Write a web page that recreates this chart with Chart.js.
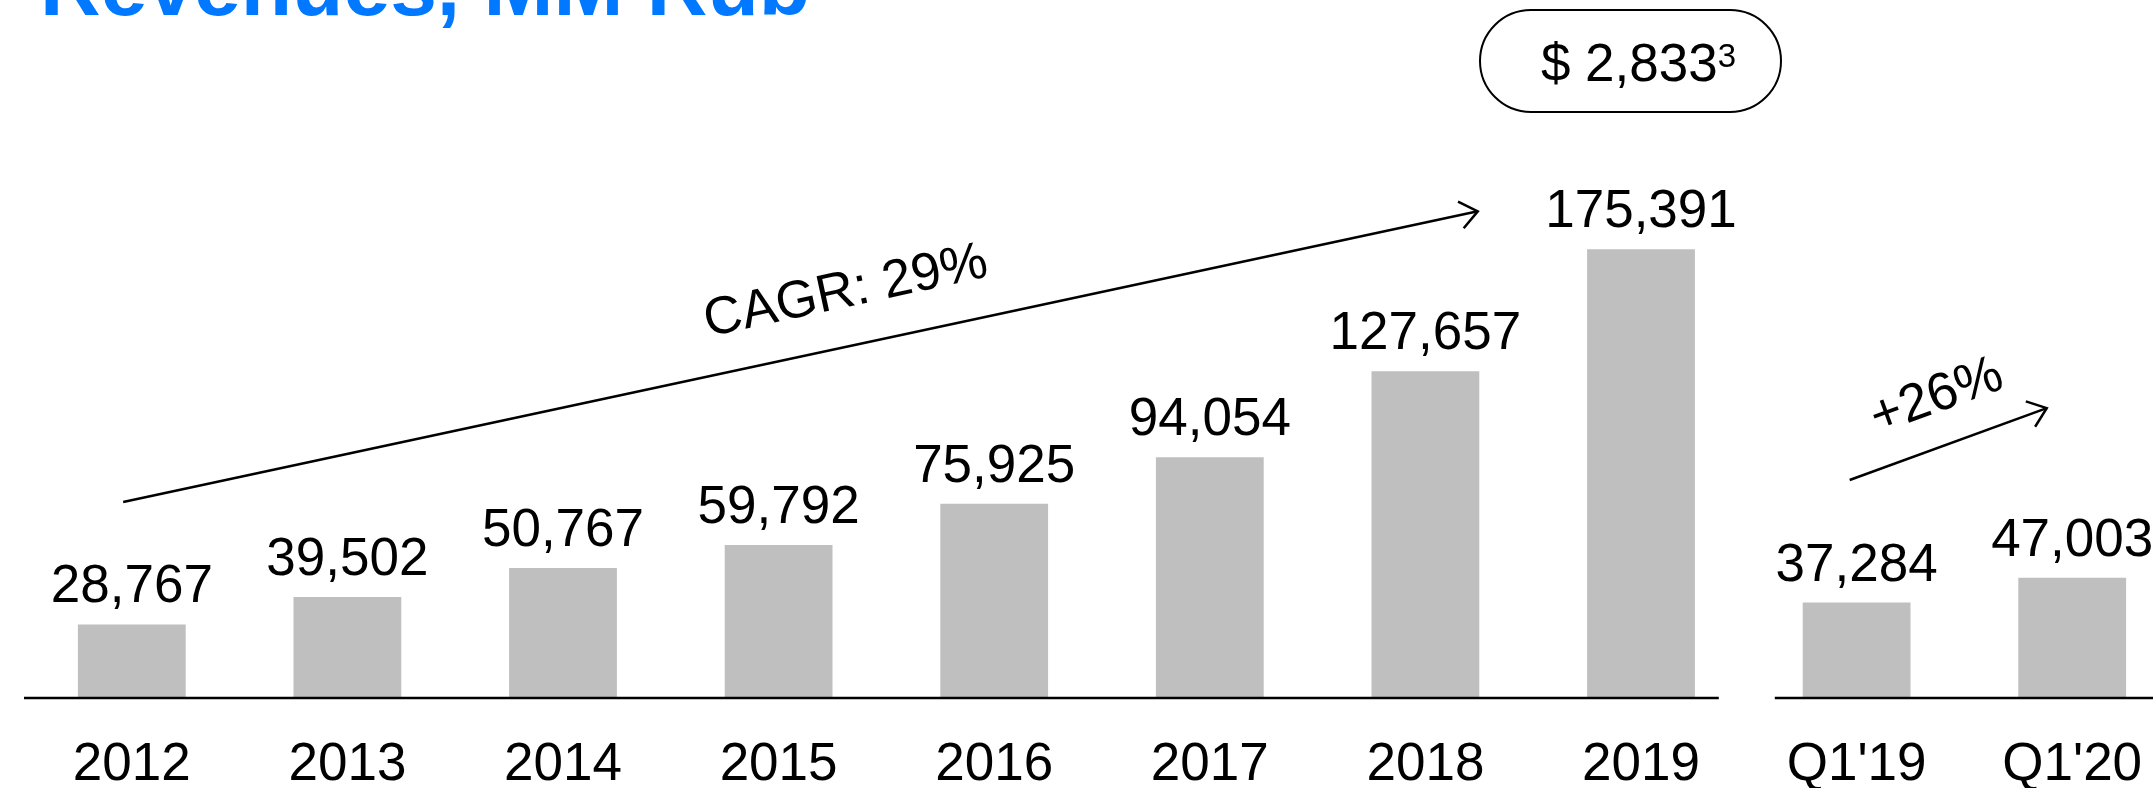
<!DOCTYPE html>
<html>
<head>
<meta charset="utf-8">
<script src="https://cdn.jsdelivr.net/npm/chart.js@4.4.1/dist/chart.umd.min.js"></script>
<style>
  html, body { margin:0; padding:0; overflow:hidden; background:#fff; width:2153px; height:788px; }
  #wrap { position:absolute; left:0; top:0; width:2180px; height:788px; }
  #title { position:absolute; left:40px; top:-56px; font:bold 84px 'Liberation Sans', Arial, sans-serif; color:#0078FF; white-space:nowrap; line-height:84px; }
  #bubble { position:absolute; left:1479px; top:9px; width:303px; height:104px; box-sizing:border-box; border:2px solid #000; border-radius:52px; }
  #bubbleText { position:absolute; left:1487px; top:36px; width:303px; text-align:center; font:53px 'Liberation Sans', Arial, sans-serif; line-height:53px; color:#000; white-space:nowrap; }
</style>
</head>
<body>
<div id="title">Revenues, MM Rub</div>
<div id="wrap"><canvas id="c"></canvas></div>
<div id="bubble"></div>
<div id="bubbleText">$ 2,833<span style="font-size:33px;line-height:33px;position:relative;top:-14px;">3</span></div>
<script>
// ---- data ----
const categories = ['2012', '2013', '2014', '2015', '2016', '2017', '2018', '2019', "Q1'19", "Q1'20"];
const revenues = [28767, 39502, 50767, 59792, 75925, 94054, 127657, 175391, 37284, 47003];
const cagrText = 'CAGR: 29%';
const growthText = '+26%';
// annotation anchors in data space: [category index, value]
const cagrFrom = [-0.04, 76600];
const cagrTo = [6.243, 190200];
const cagrAt = [3.312, 158600];
const growthFrom = [7.968, 85200];
const growthTo = [8.882, 113300];
const growthAt = [8.372, 117600];

const FONT = "'Liberation Sans', Arial, sans-serif";

function drawArrow(ctx, x1, y1, x2, y2) {
  ctx.beginPath(); ctx.moveTo(x1, y1); ctx.lineTo(x2, y2); ctx.stroke();
  const a = Math.atan2(y2 - y1, x2 - x1), L = 22, t = 38 * Math.PI / 180;
  ctx.beginPath();
  ctx.moveTo(x2 - L * Math.cos(a - t), y2 - L * Math.sin(a - t));
  ctx.lineTo(x2, y2);
  ctx.lineTo(x2 - L * Math.cos(a + t), y2 - L * Math.sin(a + t));
  ctx.stroke();
  return a;
}

const overlay = {
  id: 'overlay',
  afterDatasetsDraw(chart) {
    const { ctx, chartArea, scales: { x, y } } = chart;
    ctx.save();
    // value labels
    ctx.font = '53px ' + FONT;
    ctx.fillStyle = '#000';
    ctx.textAlign = 'center';
    ctx.textBaseline = 'alphabetic';
    chart.getDatasetMeta(0).data.forEach((bar, i) => {
      ctx.fillText(revenues[i].toLocaleString('en-US'), bar.x, bar.y - 22);
    });
    // baseline (split between yearly and quarterly groups)
    const gap = x.getPixelForValue(7.5);
    const yb = y.getPixelForValue(0);
    ctx.strokeStyle = '#000';
    ctx.lineWidth = 2.5;
    ctx.beginPath();
    ctx.moveTo(chartArea.left, yb); ctx.lineTo(gap - 30, yb);
    ctx.moveTo(gap + 26, yb); ctx.lineTo(chartArea.right, yb);
    ctx.stroke();
    // arrows
    ctx.lineJoin = 'miter';
    const P = (p) => [x.getPixelForValue(p[0]), y.getPixelForValue(p[1])];
    const [a1x, a1y] = P(cagrFrom), [b1x, b1y] = P(cagrTo);
    const ang1 = drawArrow(ctx, a1x, a1y, b1x, b1y);
    const [a2x, a2y] = P(growthFrom), [b2x, b2y] = P(growthTo);
    const ang2 = drawArrow(ctx, a2x, a2y, b2x, b2y);
    ctx.textBaseline = 'middle';
    const [c1x, c1y] = P(cagrAt);
    ctx.save(); ctx.translate(c1x, c1y); ctx.rotate(ang1); ctx.fillText(cagrText, 0, 0); ctx.restore();
    const [c2x, c2y] = P(growthAt);
    ctx.save(); ctx.translate(c2x, c2y); ctx.rotate(ang2); ctx.fillText(growthText, 0, 0); ctx.restore();
    ctx.restore();
  }
};

new Chart(document.getElementById('c'), {
  type: 'bar',
  data: {
    labels: categories,
    datasets: [{ data: revenues, backgroundColor: '#BFBFBF', borderWidth: 0, categoryPercentage: 1, barPercentage: 0.5 }]
  },
  options: {
    responsive: true,
    maintainAspectRatio: false,
    animation: false,
    devicePixelRatio: 1,
    layout: { padding: { left: 24, right: 0, top: 0, bottom: 0 } },
    plugins: { legend: { display: false }, tooltip: { enabled: false } },
    scales: {
      x: {
        offset: true,
        grid: { display: false },
        border: { display: false },
        ticks: { color: '#000', font: { family: FONT, size: 53 }, padding: 28, maxRotation: 0, autoSkip: false },
        afterFit(scale) { scale.height = 90; }
      },
      y: { display: false, min: 0, max: 272800 }
    }
  },
  plugins: [overlay]
});
</script>
</body>
</html>
